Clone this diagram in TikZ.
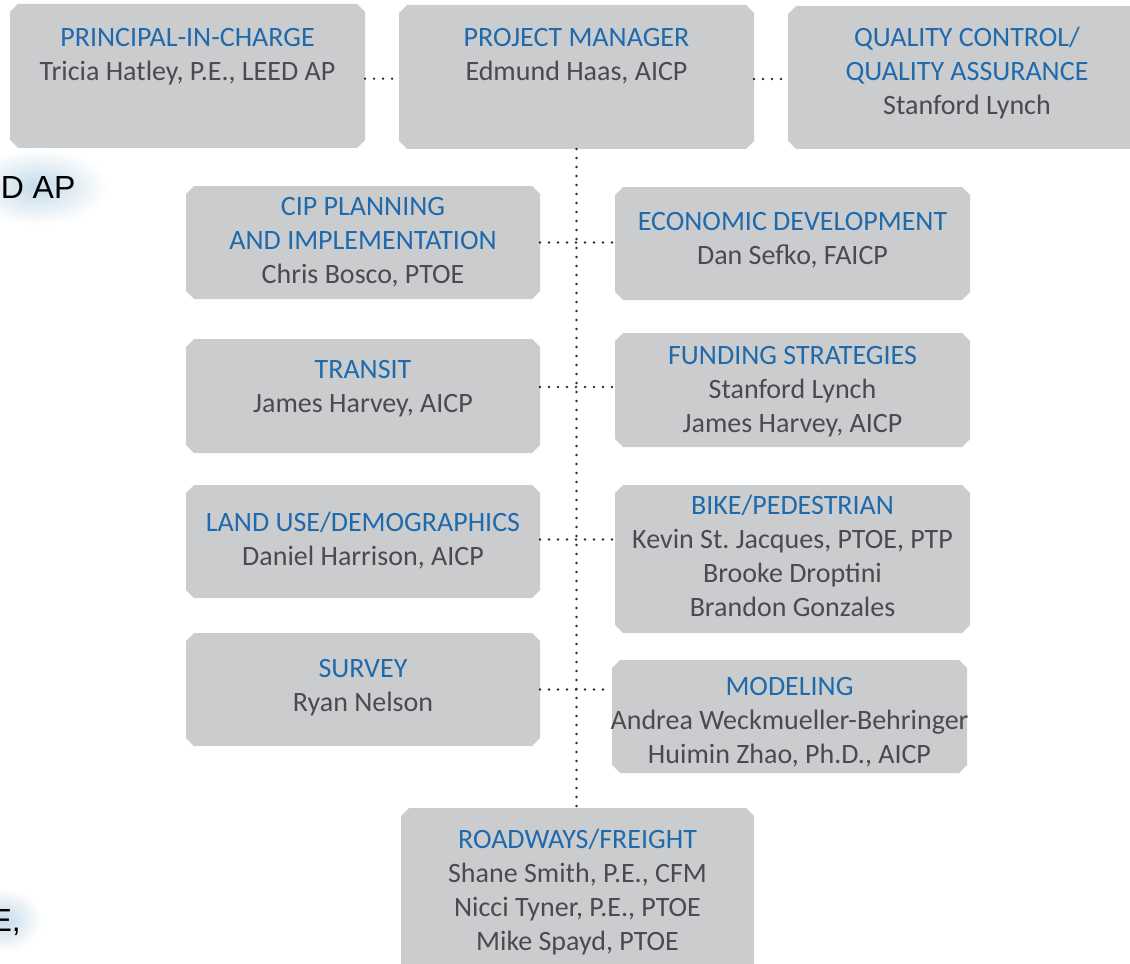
\documentclass[tikz,border=0pt]{standalone}
\usepackage{fontspec}
\setmainfont{Carlito}
\newfontfamily\arialfont{Liberation Sans}
\usetikzlibrary{positioning, fit, shapes.misc}

\definecolor{titleblue}{RGB}{30,106,172}
\definecolor{namegray}{RGB}{75,74,78}
\definecolor{boxgray}{RGB}{203,204,206}
\definecolor{dotgray}{RGB}{45,45,48}
\definecolor{glowblue}{RGB}{196,218,233}

\newcommand{\roletitle}[1]{\strut\textcolor{titleblue}{#1}}

\tikzset{
  orgbox/.style={chamfered rectangle, chamfered rectangle xsep=3pt,
    chamfered rectangle ysep=3pt, fill=boxgray, draw=none,
    inner sep=-3pt, outer sep=0pt},
  boxtext/.style={align=center, inner sep=0pt, text=namegray,
    font=\fontsize{21}{25.5}\selectfont},
  link/.style={dotgray, line width=2pt, dash pattern=on 0pt off 6.75pt,
    line cap=round},
  fragment/.style={inner sep=0pt, font=\arialfont\fontsize{24}{28}\selectfont}
}

\begin{document}
\begin{tikzpicture}[x=0.75pt, y=-0.75pt]
    \useasboundingbox (0,0) rectangle (1130,963);

    % cut-off text on the left
    \shade[inner color=glowblue, outer color=white] (38,187) ellipse (70 and 38);
    \shade[inner color=glowblue, outer color=white] (4,920) ellipse (38 and 32);
    \node[fragment, anchor=base west] (dap) at (0.5,198) {D AP};
    \node[fragment, anchor=base west] (ecomma) at (-9.7,931) {E,};

    % top row
    \node[orgbox, fit={(10,4) (365,148)}] (pic) {};
    \node[orgbox, fit={(399,5) (754,149)}] (pm) {};
    \node[orgbox, fit={(788,6) (1146,149)}] (qc) {};

    % left column
    \node[orgbox, fit={(186,186) (540,299)}] (cip) {};
    \node[orgbox, fit={(186,339) (540,453)}] (tra) {};
    \node[orgbox, fit={(186,485) (540,598)}] (lan) {};
    \node[orgbox, fit={(186,633) (540,746)}] (sur) {};

    % right column
    \node[orgbox, fit={(615,187) (970,300)}] (eco) {};
    \node[orgbox, fit={(615,333) (970,447)}] (fun) {};
    \node[orgbox, fit={(615,485) (970,633)}] (bik) {};
    \node[orgbox, fit={(612,660) (967,773)}] (mod) {};

    % bottom
    \node[orgbox, fit={(401,808) (754,980)}] (roa) {};

    % texts
    \node[boxtext, below=13.9pt of pic.north] (pictext)
        {\roletitle{PRINCIPAL-IN-CHARGE}\\Tricia Hatley, P.E., LEED AP};
    \node[boxtext, below=13.1pt of pm.north] (pmtext)
        {\roletitle{PROJECT MANAGER}\\Edmund Haas, AICP};
    \node[boxtext, below=12.4pt of qc.north] (qctext)
        {\roletitle{QUALITY CONTROL/}\\\textcolor{titleblue}{QUALITY ASSURANCE}\\Stanford Lynch};
    \node[boxtext, below=3.7pt of cip.north] (ciptext)
        {\roletitle{CIP PLANNING}\\\textcolor{titleblue}{AND IMPLEMENTATION}\\Chris Bosco, PTOE};
    \node[boxtext, below=11.9pt of tra.north] (tratext)
        {\roletitle{TRANSIT}\\James Harvey, AICP};
    \node[boxtext, below=16.7pt of lan.north] (lantext)
        {\roletitle{LAND USE/DEMOGRAPHICS}\\Daniel Harrison, AICP};
    \node[boxtext, below=15.4pt of sur.north] (surtext)
        {\roletitle{SURVEY}\\Ryan Nelson};
    \node[boxtext, below=14.2pt of eco.north] (ecotext)
        {\roletitle{ECONOMIC DEVELOPMENT}\\Dan Sefko, FAICP};
    \node[boxtext, below=5.9pt of fun.north] (funtext)
        {\roletitle{FUNDING STRATEGIES}\\Stanford Lynch\\James Harvey, AICP};
    \node[boxtext, below=4.4pt of bik.north] (biktext)
        {\roletitle{BIKE/PEDESTRIAN}\\Kevin St.\ Jacques, PTOE, PTP\\Brooke Droptini\\Brandon Gonzales};
    \node[boxtext, below=8.2pt of mod.north] (modtext)
        {\roletitle{MODELING}\\Andrea Weckmueller-Behringer\\Huimin Zhao, Ph.D., AICP};
    \node[boxtext, below=12.2pt of roa.north] (roatext)
        {\roletitle{ROADWAYS/FREIGHT}\\Shane Smith, P.E., CFM\\Nicci Tyner, P.E., PTOE\\Mike Spayd, PTOE};

    % dotted connectors
    \draw[link] ([yshift=-2pt]pic.east) -- ([yshift=-2pt]pic.east -| pm.west);
    \draw[link] ([yshift=-1.5pt]pm.east) -- ([yshift=-1.5pt]pm.east -| qc.west);
    \draw[link] (pm.south) -- (pm.south |- roa.north);
    \draw[link] (cip.east) -- (cip.east -| eco.west);
    \draw[link] ([yshift=6.75pt]tra.east) -- ([yshift=6.75pt]tra.east -| fun.west);
    \draw[link] ([yshift=1.5pt]lan.east) -- ([yshift=1.5pt]lan.east -| bik.west);
    \draw[link] (sur.east) -- (sur.east -| mod.west);
\end{tikzpicture}
\end{document}
